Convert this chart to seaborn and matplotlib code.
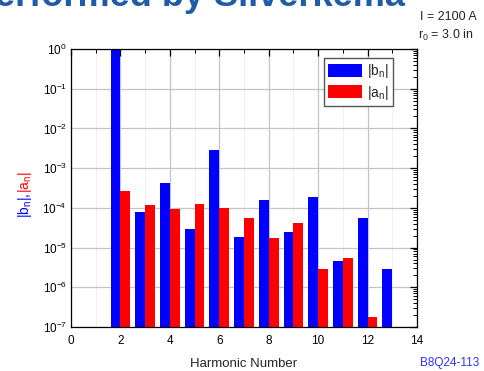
import numpy as np
import pandas as pd
import matplotlib
matplotlib.use("Agg")
import matplotlib.pyplot as plt
import seaborn as sns
from matplotlib.ticker import LogLocator, MultipleLocator, NullFormatter

# Harmonic multipole magnitudes (normalised to the main b2 term)
harmonics_b = [2, 3, 4, 5, 6, 7, 8, 9, 10, 11, 12, 13]
b_n = [1.0, 8.0e-5, 4.2e-4, 3.0e-5, 2.8e-3, 1.9e-5, 1.6e-4, 2.45e-5,
       1.87e-4, 4.6e-6, 5.5e-5, 2.9e-6]
harmonics_a = [2, 3, 4, 5, 6, 7, 8, 9, 10, 11, 12]
a_n = [2.6e-4, 1.15e-4, 9.5e-5, 1.22e-4, 1.0e-4, 5.4e-5, 1.74e-5, 4.2e-5,
       2.9e-6, 5.5e-6, 1.78e-7]

label_b = r"|b$_\mathrm{n}$|"
label_a = r"|a$_\mathrm{n}$|"

df = pd.concat([
    pd.DataFrame({"n": harmonics_b, "value": b_n, "comp": label_b}),
    pd.DataFrame({"n": harmonics_a, "value": a_n, "comp": label_a}),
], ignore_index=True)

sns.set_style("white")
plt.rcParams["font.family"] = ["Liberation Sans", "DejaVu Sans"]
plt.rcParams["mathtext.fontset"] = "custom"
plt.rcParams["mathtext.rm"] = "Liberation Sans"
plt.rcParams["mathtext.it"] = "Liberation Sans:italic"
plt.rcParams["mathtext.bf"] = "Liberation Sans:bold"

fig = plt.figure(figsize=(4.85, 3.71), dpi=100)
ax = fig.add_axes([71 / 485, 1 - 327 / 371, 346 / 485, 278 / 371])

sns.barplot(data=df, x="n", y="value", hue="comp",
            hue_order=[label_b, label_a], native_scale=True,
            palette=["#0000ff", "#ff0000"], errorbar=None, width=0.8,
            dodge=True, linewidth=0, saturation=1, ax=ax)

ax.set_yscale("log")
ax.set_ylim(1e-7, 1)
ax.set_xlim(0, 14)

ax.xaxis.set_major_locator(MultipleLocator(2))
ax.xaxis.set_minor_locator(MultipleLocator(1))
ax.yaxis.set_major_locator(LogLocator(base=10, numticks=20))
ax.yaxis.set_minor_locator(LogLocator(base=10, subs=np.arange(2, 10), numticks=20))
ax.yaxis.set_minor_formatter(NullFormatter())

ax.tick_params(which="both", direction="in", top=True, right=True,
               colors="black", labelsize=8.5)
ax.tick_params(which="major", length=5, width=0.9)
ax.tick_params(axis="x", which="major", pad=6)
ax.tick_params(axis="y", which="major", pad=3)
ax.tick_params(which="minor", length=3, width=0.7)

ax.set_axisbelow(True)
ax.grid(which="major", color="#c4c4c4", linewidth=0.9)
ax.xaxis.grid(which="minor", color="#ececec", linewidth=0.6)
for s in ax.spines.values():
    s.set_color("black")
    s.set_linewidth(0.9)

ax.set_xlabel("Harmonic Number", fontsize=9.5, labelpad=8)
ax.set_ylabel("")

handles, labels = ax.get_legend_handles_labels()
ax.legend(handles, labels, loc="upper right", bbox_to_anchor=(0.931, 0.968),
          borderaxespad=0, frameon=True, fancybox=False, edgecolor="#555555",
          framealpha=1, fontsize=10, handlelength=2.4, handleheight=1.05,
          borderpad=0.3, labelspacing=0.25, handletextpad=0.4)

# Two-colour y-axis label
ysplit = 1 - 193 / 371
fig.text(25 / 485, ysplit, label_b + ",", rotation=90, ha="center", va="top",
         color="#0000ff", fontsize=10)
fig.text(25 / 485, ysplit, label_a, rotation=90, ha="center", va="bottom",
         color="#ff0000", fontsize=10)

# Header and annotations
fig.text(405 / 485, 1 - 6.5 / 371, "Performed by Silverkema", ha="right",
         va="baseline", fontsize=26, fontweight="bold", color="#1f5ca8")
fig.text(477 / 485, 1 - 17 / 371, "I = 2100 A", ha="right", va="center",
         fontsize=9)
fig.text(474 / 485, 1 - 35 / 371, r"r$_\mathrm{0}$ = 3.0 in", ha="right",
         va="center", fontsize=9)
fig.text(479 / 485, 1 - 363 / 371, "B8Q24-113", ha="right", va="center",
         fontsize=8.5, color="#3333ee")

fig.savefig("out.png", dpi=100)
